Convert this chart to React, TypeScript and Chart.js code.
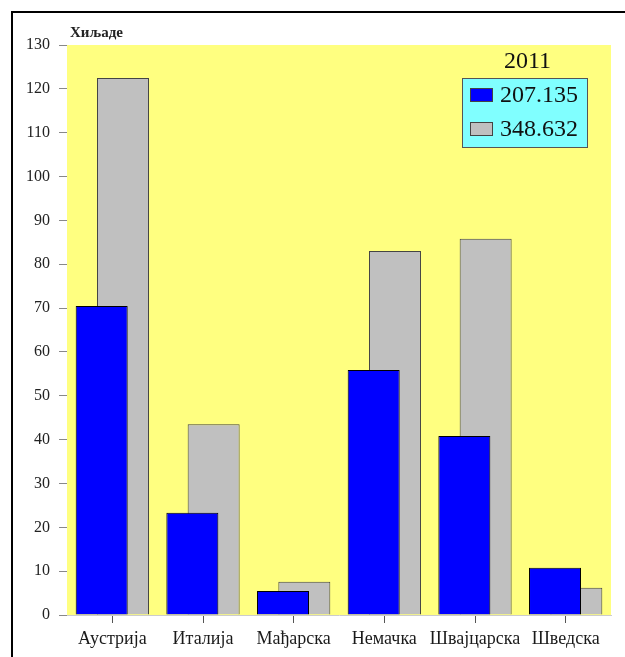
import React, { useEffect, useRef } from "react";
import { Chart, registerables } from "chart.js";

Chart.register(...registerables);

const categories = ["Аустрија", "Италија", "Мађарска", "Немачка", "Швајцарска", "Шведска"];
const seriesA = [70.5, 23.3, 5.5, 55.9, 40.8, 10.8];
const seriesB = [122.5, 43.5, 7.6, 83.0, 85.8, 6.2];
const seriesLabels = ["207.135", "348.632"];
const legendTitle = "2011";
const unitLabel = "Хиљаде";

const SERIF = "'Liberation Serif', 'Times New Roman', serif";

const bgPlugin = {
  id: "bgPlugin",
  beforeDatasetsDraw(chart: any) {
    const { ctx, chartArea: a } = chart;
    ctx.save();
    ctx.fillStyle = "#FFFF80";
    ctx.fillRect(a.left, a.top, a.right - a.left, a.bottom - a.top);
    ctx.restore();
  },
  afterDraw(chart: any) {
    const { ctx, chartArea: a } = chart;
    ctx.save();
    // unit label
    ctx.fillStyle = "#222";
    ctx.font = `bold 15px ${SERIF}`;
    ctx.textAlign = "left";
    ctx.textBaseline = "middle";
    ctx.fillText(unitLabel, a.left + 3, a.top - 12);

    // legend
    const bx = a.right - 149;
    const by = a.top + 33;
    const bw = 125;
    const bh = 69;
    ctx.font = `24px ${SERIF}`;
    ctx.fillStyle = "#111";
    ctx.textAlign = "center";
    ctx.fillText(legendTitle, bx + bw / 2 + 3, a.top + 17);
    ctx.fillStyle = "#80FFFF";
    ctx.fillRect(bx, by, bw, bh);
    ctx.strokeStyle = "#555";
    ctx.lineWidth = 1;
    ctx.strokeRect(bx + 0.5, by + 0.5, bw, bh);
    chart.data.datasets.forEach((ds: any, i: number) => {
      const cy = by + 17 + i * 34;
      ctx.fillStyle = ds.backgroundColor;
      ctx.fillRect(bx + 8, cy - 7, 22, 13);
      ctx.strokeStyle = "#444";
      ctx.strokeRect(bx + 8.5, cy - 6.5, 22, 13);
      ctx.fillStyle = "#111";
      ctx.textAlign = "left";
      ctx.fillText(seriesLabels[i], bx + 38, cy + 1);
    });
    ctx.restore();
  },
};

export default function App() {
  const ref = useRef<HTMLCanvasElement>(null);
  useEffect(() => {
    if (!ref.current) return;
    const chart = new Chart(ref.current, {
      type: "bar",
      data: {
        labels: categories,
        datasets: [
          {
            label: seriesLabels[0],
            data: seriesA,
            backgroundColor: "#0000FF",
            borderColor: "#000",
            borderWidth: 1,
            categoryPercentage: 0.47,
            barPercentage: 2.44,
          },
          {
            label: seriesLabels[1],
            data: seriesB,
            backgroundColor: "#C0C0C0",
            borderColor: "#444",
            borderWidth: 1,
            categoryPercentage: 0.47,
            barPercentage: 2.44,
          },
        ],
      },
      options: {
        animation: false,
        responsive: false,
        layout: { padding: { left: 0, right: 14, top: 45, bottom: 0 } },
        plugins: { legend: { display: false }, tooltip: { enabled: false } },
        scales: {
          x: {
            grid: { drawOnChartArea: false, offset: false, tickLength: 8, tickColor: "#555", color: "#555" },
            border: { color: "#ccc" },
            ticks: { font: { family: SERIF, size: 18 }, color: "#1a1a1a", padding: 5, maxRotation: 0, autoSkip: false },
            afterFit(scale: any) {
              scale.height = 42;
            },
          },
          y: {
            min: 0,
            max: 130,
            grid: { drawOnChartArea: false, tickLength: 8, tickColor: "#888", color: "#888" },
            border: { color: "#ccc" },
            ticks: { stepSize: 10, font: { family: SERIF, size: 16 }, color: "#222", padding: 9 },
            afterFit(scale: any) {
              scale.width = 67;
            },
          },
        },
      },
      plugins: [bgPlugin],
    });
    return () => chart.destroy();
  }, []);
  return (
    <div style={{ position: "fixed", left: 0, top: 0, width: 625, height: 657, overflow: "hidden", background: "#fff" }}>
      <div style={{ position: "absolute", left: 11, top: 11, width: 700, height: 700, border: "2px solid #000" }} />
      <canvas ref={ref} width={625} height={657} style={{ position: "absolute", left: 0, top: 0 }} />
    </div>
  );
}
